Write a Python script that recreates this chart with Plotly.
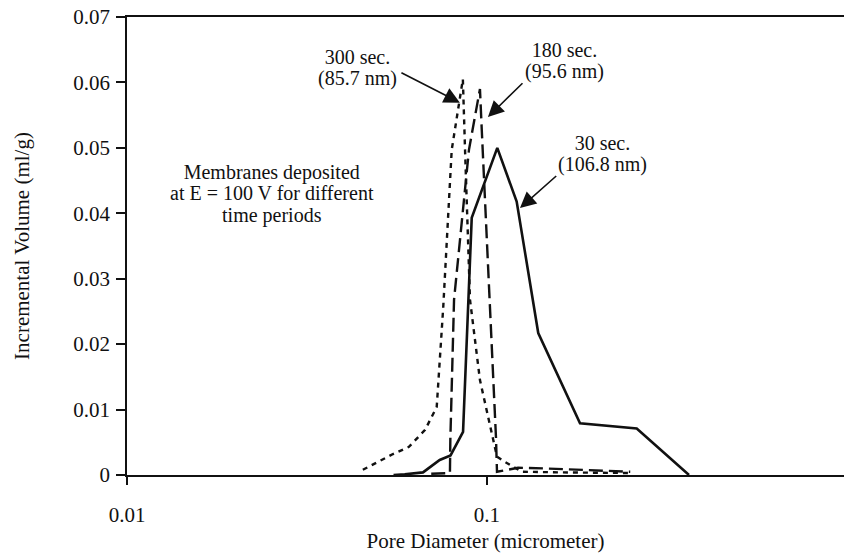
import numpy as np
import plotly.graph_objects as go

# Pore size distributions (diameter in micrometer, incremental volume in ml/g)
t30_x = [0.0550, 0.0591, 0.0664, 0.0686, 0.0739, 0.0792, 0.0858, 0.0907, 0.1068,
         0.1209, 0.1388, 0.1813, 0.2606, 0.3640]
t30_y = [0.0000, 0.0001, 0.0004, 0.0010, 0.0023, 0.0030, 0.0066, 0.0393, 0.0500,
         0.0418, 0.0217, 0.0079, 0.0071, 0.0000]

t180_x = [0.0700, 0.0789, 0.0791, 0.0810, 0.0891, 0.0956, 0.0967, 0.1019, 0.1059,
          0.1066, 0.1220, 0.1450, 0.1800, 0.2200, 0.2500]
t180_y = [0.0002, 0.0003, 0.0054, 0.0268, 0.0497, 0.0590, 0.0528, 0.0268, 0.0058,
          0.0005, 0.0011, 0.0010, 0.0008, 0.0006, 0.0005]

t300_x = [0.0452, 0.0548, 0.0607, 0.0673, 0.0725, 0.0756, 0.0798, 0.0857, 0.0869,
          0.0897, 0.0956, 0.1039, 0.1066, 0.1122, 0.1250, 0.1600, 0.2000, 0.2500]
t300_y = [0.0008, 0.0032, 0.0043, 0.0069, 0.0104, 0.0257, 0.0497, 0.0605, 0.0497,
          0.0268, 0.0145, 0.0054, 0.0028, 0.0020, 0.0005, 0.0004, 0.0004, 0.0003]

x_ticks = [0.01, 0.1]
x_ticktext = ["0.01", "0.1"]
y_ticks = [0, 0.01, 0.02, 0.03, 0.04, 0.05, 0.06, 0.07]
y_ticktext = ["0", "0.01", "0.02", "0.03", "0.04", "0.05", "0.06", "0.07"]

# mean pore diameters quoted in the labels (nm)
d300, d180, d30 = 85.7, 95.6, 106.8

FONT = "Liberation Serif, Times New Roman, serif"
INK = "#111111"

fig = go.Figure()
fig.add_trace(go.Scatter(x=t30_x, y=t30_y, mode="lines",
                         line=dict(color=INK, width=2.6)))
fig.add_trace(go.Scatter(x=t180_x, y=t180_y, mode="lines",
                         line=dict(color=INK, width=2.4, dash="14px,6px")))
fig.add_trace(go.Scatter(x=t300_x, y=t300_y, mode="lines",
                         line=dict(color=INK, width=2.4, dash="5px,5px")))

lg = np.log10


def label(d, y, lines):
    # base size sets the (tight) line pitch; the span sets the glyph size
    body = "<br>".join(f"<span style='font-size:20px'>{s}</span>" for s in lines)
    fig.add_annotation(x=lg(d), y=y, xref="x", yref="y", text=body,
                       showarrow=False, xanchor="center", yanchor="middle",
                       align="center",
                       font=dict(family=FONT, size=16.5, color=INK))


def arrow(d_tail, y_tail, d_head, y_head):
    fig.add_annotation(x=lg(d_head), y=y_head, ax=lg(d_tail), ay=y_tail,
                       xref="x", yref="y", axref="x", ayref="y", text="",
                       showarrow=True, arrowhead=2, arrowsize=2,
                       arrowwidth=1.6, arrowcolor=INK, standoff=0)


label(0.0438, 0.0622, ["300 sec.", f"({d300} nm)"])
arrow(0.0573, 0.0616, 0.0841, 0.0569)

label(0.1637, 0.0633, ["180 sec.", f"({d180} nm)"])
arrow(0.1267, 0.0601, 0.1006, 0.0547)

label(0.2093, 0.0491, ["30 sec.", f"({d30} nm)"])
arrow(0.1572, 0.0459, 0.1235, 0.0408)

label(0.0253, 0.0430, ["Membranes deposited", "at E = 100 V for different",
                       "time periods"])

fig.update_layout(
    width=844, height=553,
    margin=dict(l=127, r=0, t=17, b=78),
    paper_bgcolor="white", plot_bgcolor="white",
    showlegend=False,
    font=dict(family=FONT, size=21, color=INK),
    xaxis=dict(type="log", range=[-2, -0.0083],
               tickvals=x_ticks, ticktext=x_ticktext,
               ticks="outside", ticklen=8, tickwidth=1.5, tickcolor=INK,
               tickfont=dict(family=FONT, size=21),
               showline=True, linewidth=1.5, linecolor=INK, mirror=True,
               showgrid=False, zeroline=False, ticklabelstandoff=12,
               title=dict(text="Pore Diameter (micrometer)",
                          font=dict(family=FONT, size=21), standoff=8),
               automargin=False),
    yaxis=dict(range=[0, 0.07], tickvals=y_ticks, ticktext=y_ticktext,
               ticks="outside", ticklen=9, tickwidth=1.5, tickcolor=INK,
               tickfont=dict(family=FONT, size=21),
               showline=True, linewidth=1.5, linecolor=INK,
               showgrid=False, zeroline=False, ticklabelstandoff=2,
               title=dict(text="Incremental Volume (ml/g)",
                          font=dict(family=FONT, size=21), standoff=38),
               automargin=False),
)

fig.write_html("out.html")
